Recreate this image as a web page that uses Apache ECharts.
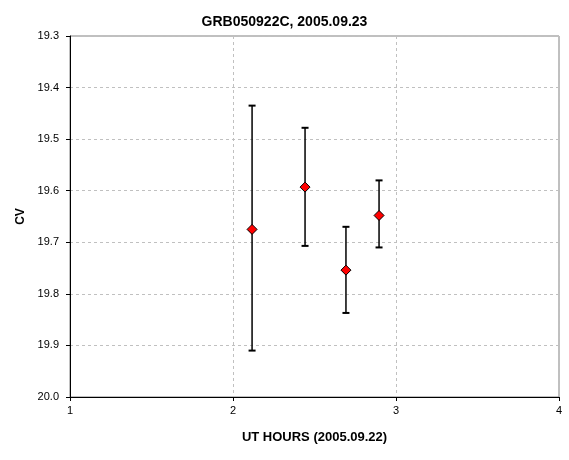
<!DOCTYPE html>
<html><head><meta charset="utf-8">
<script src="https://cdn.jsdelivr.net/npm/echarts@6/dist/echarts.min.js"></script>
<style>html,body{margin:0;padding:0;background:#fff}#c{width:569px;height:460px}</style>
</head><body><div id="c"></div>
<script>
const hours = [2.117, 2.442, 2.693, 2.896];
const cv = [19.675, 19.593, 19.754, 19.648];
const cvTop = [19.435, 19.478, 19.670, 19.580];
const cvBottom = [19.910, 19.707, 19.837, 19.710];
const titleText = 'GRB050922C, 2005.09.23';
const xName = 'UT HOURS (2005.09.22)';
const yName = 'CV';

const font = '"Liberation Sans", Arial, sans-serif';
const chart = echarts.init(document.getElementById('c'), null, {renderer: 'canvas'});
const pts = hours.map((h, i) => [h, cv[i]]);
const errs = hours.map((h, i) => [h, cvTop[i], cvBottom[i]]);

chart.setOption({
  animation: false,
  backgroundColor: '#ffffff',
  title: {
    text: titleText, left: 284.5, top: 15, padding: 0, textAlign: 'center',
    textStyle: {fontFamily: font, fontSize: 14, fontWeight: 'bold', color: '#000'}
  },
  grid: {left: 70, right: 10, top: 36, bottom: 63, show: true, borderColor: '#808080', borderWidth: 1, backgroundColor: '#fff'},
  xAxis: {
    type: 'value', min: 1, max: 4, interval: 1,
    name: xName, nameLocation: 'middle', nameGap: 34,
    nameTextStyle: {fontFamily: font, fontSize: 13, fontWeight: 'bold', color: '#000'},
    axisLine: {show: true, onZero: false, lineStyle: {color: '#000', width: 1}},
    axisTick: {show: true, length: 4, lineStyle: {color: '#000'}},
    axisLabel: {fontFamily: font, fontSize: 11, color: '#000', margin: 8},
    splitLine: {show: true, lineStyle: {color: '#c0c0c0', type: [3, 3], width: 1}}
  },
  yAxis: {
    type: 'value', min: 19.3, max: 20.0, interval: 0.1, inverse: true,
    name: yName, nameLocation: 'middle', nameGap: 40, nameRotate: 90,
    nameTextStyle: {fontFamily: font, fontSize: 12, fontWeight: 'bold', color: '#000'},
    axisLine: {show: true, onZero: false, lineStyle: {color: '#000', width: 1}},
    axisTick: {show: true, length: 4, lineStyle: {color: '#000'}},
    axisLabel: {fontFamily: font, fontSize: 11, color: '#000', margin: 11, formatter: v => v.toFixed(1)},
    splitLine: {show: true, lineStyle: {color: '#c0c0c0', type: [3, 3], width: 1}}
  },
  series: [
    {
      type: 'custom',
      data: errs,
      z: 2,
      renderItem: function (params, api) {
        const x = api.value(0);
        const top = api.coord([x, api.value(1)]);
        const bot = api.coord([x, api.value(2)]);
        const hw = 3.5;
        const st = {stroke: '#000', lineWidth: 1.5};
        return {
          type: 'group',
          children: [
            {type: 'line', shape: {x1: top[0], y1: top[1], x2: bot[0], y2: bot[1]}, style: st},
            {type: 'line', shape: {x1: top[0] - hw, y1: top[1], x2: top[0] + hw, y2: top[1]}, style: {stroke: '#000', lineWidth: 2}},
            {type: 'line', shape: {x1: bot[0] - hw, y1: bot[1], x2: bot[0] + hw, y2: bot[1]}, style: {stroke: '#000', lineWidth: 2}}
          ]
        };
      }
    },
    {
      type: 'scatter',
      data: pts,
      z: 3,
      symbol: 'diamond',
      symbolSize: 10,
      itemStyle: {color: '#ff0000', borderColor: '#000', borderWidth: 1, opacity: 1}
    }
  ]
});
</script>
</body></html>
